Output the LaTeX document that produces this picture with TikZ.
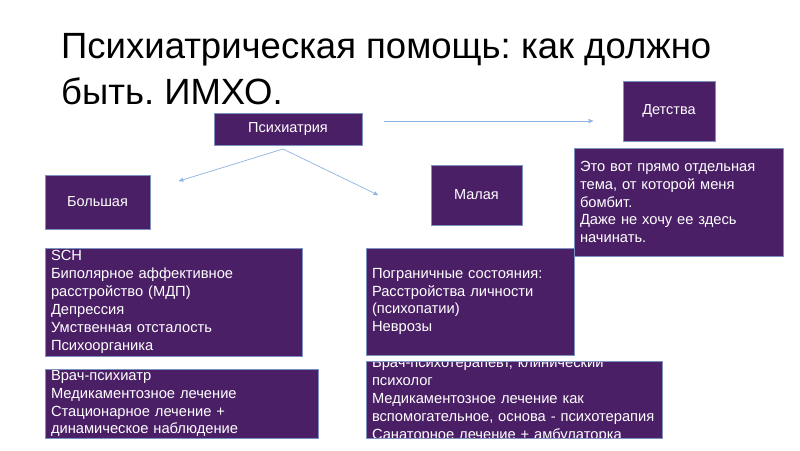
\documentclass[tikz,border=0pt]{standalone}
\usepackage{fontspec}
\setsansfont{Liberation Sans}
\usetikzlibrary{arrows}
\usetikzlibrary{positioning}
\definecolor{boxfill}{RGB}{75,31,102}
\definecolor{boxline}{RGB}{125,145,195}
\definecolor{arrowblue}{RGB}{141,180,226}
\frenchspacing

\begin{document}
\begin{tikzpicture}[x=1pt,y=-1pt,->,>=stealth',
    panel/.style={rectangle,draw=boxline,fill=boxfill,line width=0.6pt,text=white,
      font=\sffamily\fontsize{14.5}{17.8}\selectfont,inner sep=0pt},
    head node/.style n args={2}{panel,minimum width=#1,minimum height=#2},
    body text/.style={text=white,align=left,inner sep=0pt,
      font=\sffamily\fontsize{14.7}{17.9}\selectfont},
    body node/.style n args={4}{panel,minimum width=#1,minimum height=#2,
      path picture={\node[body text,text width=#3]
        at ([xshift=3pt]path picture bounding box.center) {#4};}},
    link/.style={draw=arrowblue,line width=0.7pt}]

  \fill[white] (0,0) rectangle (800,450);
  \useasboundingbox (0,0) rectangle (800,450);

  \node[anchor=north west,align=left,inner sep=0pt,
        font=\sffamily\fontsize{36.5}{46}\selectfont] (title) at (61,33)
    {Психиатрическая помощь: как должно\\быть. ИМХО.};

  \node[head node={148}{32}] (psych) at (288,129) {Психиатрия};
  \node[head node={92}{60}]  (child) at (669,111) {Детства};
  \node[head node={105}{54}] (big)   at (97.5,202) {Большая};
  \node[head node={91}{60}]  (small) at (476.5,195) {Малая};

  \node[body node={209}{108}{203pt}{Это вот прямо отдельная\\тема, от которой меня\\бомбит.\\Даже не хочу ее здесь\\начинать.}]
    (note) at (678.5,202) {};
  \node[body node={257}{108}{251pt}{SCH\\Биполярное аффективное\\расстройство (МДП)\\Депрессия\\Умственная отсталость\\Психоорганика}]
    (bigill) at (173.5,302) {};
  \node[body node={273}{69}{267pt}{Врач-психиатр\\Медикаментозное лечение\\Стационарное лечение +\\динамическое наблюдение}]
    (bigcare) at (181.5,403.5) {};
  \node[body node={208}{107}{202pt}{Пограничные состояния:\\Расстройства личности\\(психопатии)\\Неврозы}]
    (smallill) at (470,301.5) {};
  \node[body node={296}{77}{290pt}{Врач-психотерапевт, клинический\\психолог\\Медикаментозное лечение как\\вспомогательное, основа - психотерапия\\Санаторное лечение + амбулаторка}]
    (smallcare) at (514,399.5) {};

  % arrow ends
  \coordinate (fork) at (283,149);
  \coordinate (big tip) at (179,181);
  \coordinate (small tip) at (378,195);
  \coordinate (child tail) at (384,121);
  \coordinate (child tip) at (593,121);

  \draw[link] (fork) -- (big tip);
  \draw[link] (fork) -- (small tip);
  \draw[link] (child tail) -- (child tip);
\end{tikzpicture}
\end{document}
